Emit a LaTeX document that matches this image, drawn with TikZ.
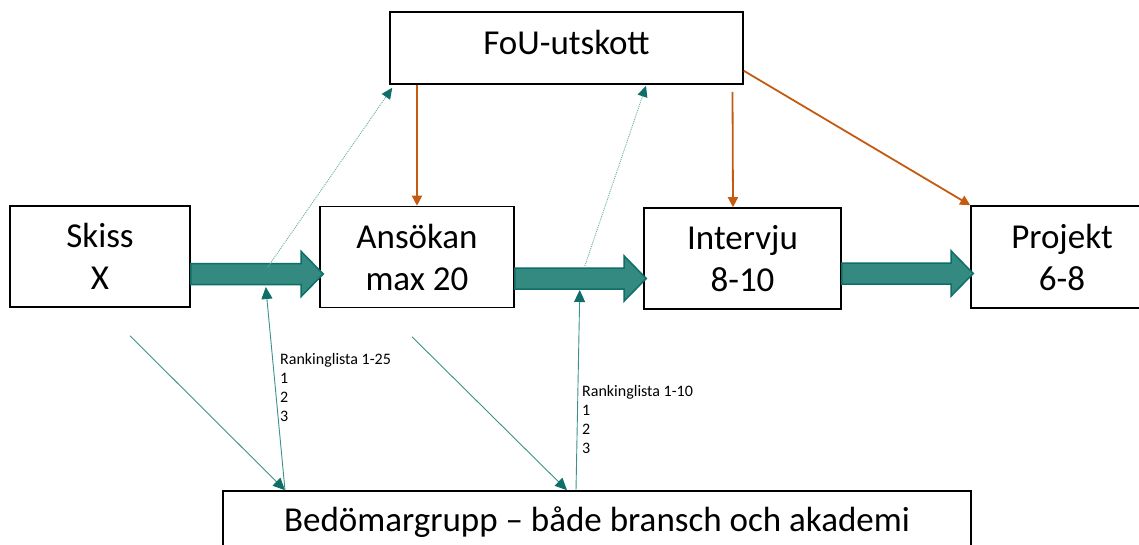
\documentclass[tikz,border=0pt]{standalone}
\usepackage{fontspec}
\setmainfont{Carlito}
\usetikzlibrary{arrows.meta,calc}
\definecolor{tealfill}{RGB}{52,137,129}
\definecolor{tealdark}{RGB}{14,110,104}
\definecolor{teallight}{RGB}{60,145,138}
\definecolor{tealdot}{RGB}{110,175,170}
\definecolor{orangeline}{RGB}{197,90,17}
\newcommand\blockarrow[2]{%
  \filldraw[bigarrow] ($(#1)+(0,-10.5)$) -- ($(#2)+(-22,-10.5)$) -- ($(#2)+(-22,-22.5)$) -- (#2) -- ($(#2)+(-22,22.5)$) -- ($(#2)+(-22,10.5)$) -- ($(#1)+(0,10.5)$) -- cycle;}
\tikzset{
  box/.style={draw=black, line width=1.6pt, fill=white, rectangle, inner sep=0pt, align=center,
    font=\fontsize{35}{42}\selectfont},
  bigarrow/.style={fill=tealfill, draw=tealdark, line width=1.5pt, line join=miter},
  orangearrow/.style={draw=orangeline, line width=1.8pt, -{Triangle[length=10pt,width=10pt]}},
  thinarrow/.style={draw=teallight, line width=0.9pt, -{Triangle[length=12pt,width=11pt,color=tealdark]}},
  dotarrow/.style={draw=tealdot, line width=0.9pt, dash pattern=on 1pt off 1pt, -{Triangle[length=11pt,width=10pt,color=tealdark]}},
  ranklabel/.style={anchor=north west, inner sep=0pt, align=left, font=\fontsize{16}{19}\selectfont}
}
\begin{document}
\begin{tikzpicture}[x=1pt,y=-1pt]
\useasboundingbox (0,0) rectangle (1139,545);
\clip (0,0) rectangle (1139,545);
\fill[white] (0,0) rectangle (1139,545);
% boxes
\node[box, minimum width=353pt, minimum height=72pt, text depth=12pt] (fou) at (566.5,48) {FoU-utskott};
\node[box, minimum width=180pt, minimum height=101pt] (skiss) at (100,256.5) {Skiss\\X};
\node[box, minimum width=194pt, minimum height=101pt] (ans) at (417,257) {Ansökan\\max 20};
\node[box, minimum width=197pt, minimum height=101pt] (int) at (742.5,258.5) {Intervju\\8-10};
\node[box, minimum width=182pt, minimum height=102pt] (proj) at (1062,257) {Projekt\\6-8};
\node[box, minimum width=748pt, minimum height=62pt] (bed) at (597,522) {Bedömargrupp -- både bransch och akademi};
% block arrow anchors
\coordinate (a1s) at ($(skiss.east)+(0,17.5)$);
\coordinate (a1e) at ($(ans.west)+(4,17)$);
\coordinate (a2s) at ($(ans.east)+(0,21.5)$);
\coordinate (a2e) at ($(int.west)+(3,20)$);
\coordinate (a3s) at ($(int.east)+(0,15)$);
\coordinate (a3e) at ($(proj.west)+(3,16.5)$);
\blockarrow{a1s}{a1e}
\blockarrow{a2s}{a2e}
\blockarrow{a3s}{a3e}
% orange arrows
\draw[orangearrow] (fou.south -| ans.north) -- (ans.north);
\draw[orangearrow] ($(fou.south)+(166,7)$) -- ($(int.north)+(-9.5,0)$);
\draw[orangearrow] ($(fou.south east)+(0,-14)$) -- (proj.north west);
% dotted arrows to FoU
\draw[dotarrow] ($(a1s)+(77,-7)$) -- ($(fou.south west)+(3,3)$);
\draw[dotarrow] ($(a2s)+(70,-12.5)$) -- ($(fou.south)+(79.5,1)$);
% thin arrows to/from Bedömargrupp
\draw[thinarrow] ($(skiss.south)+(30,28)$) -- ($(bed.north)+(-312,0)$);
\draw[thinarrow] ($(bed.north)+(-312,0)$) -- ($(a1s)+(75,13)$);
\draw[thinarrow] ($(ans.south)+(-5,28.5)$) -- ($(bed.north)+(-30,0)$);
\draw[thinarrow] ($(bed.north)+(-21,0)$) -- ($(a2s)+(65,11.5)$);
% labels
\node[ranklabel] (rank1) at (280,353) {Rankinglista 1-25\\1\\2\\3};
\node[ranklabel] (rank2) at (582,385) {Rankinglista 1-10\\1\\2\\3};
\end{tikzpicture}
\end{document}
